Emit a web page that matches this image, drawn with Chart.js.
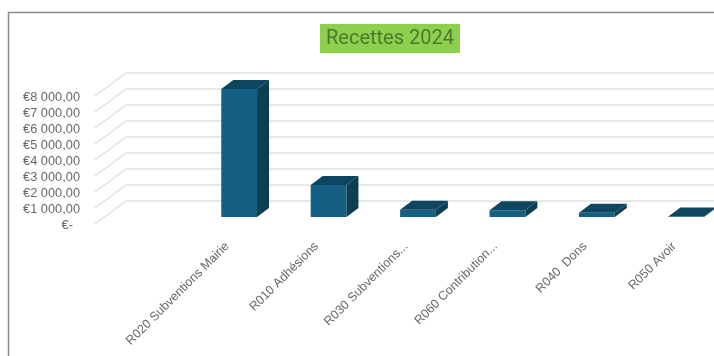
<!DOCTYPE html>
<html>
<head>
<meta charset="utf-8">
<style>
  html, body { margin: 0; padding: 0; background: #fff; overflow: hidden; width: 714px; height: 356px; }
  canvas { display: block; }
</style>
<script src="https://cdn.jsdelivr.net/npm/chart.js@4"></script>
</head>
<body>
<canvas id="chart" width="731" height="356" style="width:731px;height:356px"></canvas>
<script>
const categories = ["", "R020 Subventions Mairie", "R010 Adhésions", "R030 Subventions...", "R060 Contribution...", "R040  Dons", "R050 Avoir"];
const recettes = [null, 8000, 2000, 460, 420, 270, 30];
const yTicks = [0, 1000, 2000, 3000, 4000, 5000, 6000, 7000, 8000];
const yTickLabels = ["€-  ", "€1 000,00", "€2 000,00", "€3 000,00", "€4 000,00", "€5 000,00", "€6 000,00", "€7 000,00", "€8 000,00"];

// fake 3d: back wall + floor offsets and bar depth
const wallX = 126, wallDy = 16, floorX = 95, floorDy = 7;
const depthX = 12, depthY = 9;

const fake3d = {
  id: "fake3d",
  afterLayout(chart) {
    // title box sits right of the canvas centre
    chart.titleBlock.left = 320;
    chart.titleBlock.right = 460;
  },
  beforeDraw(chart) {
    const { ctx, width, height } = chart;
    ctx.save();
    ctx.fillStyle = "#fff";
    ctx.fillRect(0, 0, width, height);
    // frame, cut off by the screenshot on the right and bottom
    ctx.strokeStyle = "#8a8a8a";
    ctx.lineWidth = 1.5;
    ctx.strokeRect(8.5, 12.5, width + 20, height + 20);
    // title background
    ctx.fillStyle = "#8ED04D";
    ctx.fillRect(320, 24, 140, 29);
    ctx.restore();
  },
  beforeDatasetsDraw(chart) {
    const { ctx, scales: { y }, width } = chart;
    ctx.save();
    ctx.strokeStyle = "#e1e1e1";
    ctx.lineWidth = 1.4;
    yTicks.forEach(v => {
      const py = y.getPixelForValue(v);
      ctx.beginPath();
      ctx.moveTo(floorX, py + floorDy);
      ctx.lineTo(wallX, py - wallDy);
      ctx.lineTo(width, py - wallDy);
      ctx.stroke();
    });
    ctx.restore();
  },
  afterDatasetsDraw(chart) {
    const { ctx, chartArea } = chart;
    const bars = chart.getDatasetMeta(0).data;
    ctx.save();
    bars.forEach((bar, i) => {
      if (recettes[i] == null) return;
      const w = bar.width / 2, l = bar.x - w, r = bar.x + w, t = bar.y, b = chartArea.bottom;
      // right side
      ctx.fillStyle = "#0D3E53";
      ctx.beginPath();
      ctx.moveTo(r, t);
      ctx.lineTo(r + depthX, t - depthY);
      ctx.lineTo(r + depthX, b - depthY);
      ctx.lineTo(r, b);
      ctx.closePath();
      ctx.fill();
      // top
      ctx.fillStyle = "#0F465F";
      ctx.beginPath();
      ctx.moveTo(l, t);
      ctx.lineTo(l + depthX, t - depthY);
      ctx.lineTo(r + depthX, t - depthY);
      ctx.lineTo(r, t);
      ctx.closePath();
      ctx.fill();
    });
    ctx.restore();
  }
};

new Chart(document.getElementById("chart"), {
  type: "bar",
  data: {
    labels: categories,
    datasets: [{
      data: recettes,
      backgroundColor: "#156082",
      borderWidth: 0,
      barPercentage: 0.4,
      categoryPercentage: 1
    }]
  },
  options: {
    responsive: false,
    animation: false,
    devicePixelRatio: 1,
    layout: { padding: 0 },
    plugins: {
      legend: { display: false },
      tooltip: { enabled: false },
      title: {
        display: true,
        text: "Recettes 2024",
        color: "#4A7A2E",
        font: { family: "Roboto", size: 20, weight: "normal", lineHeight: 1.2 },
        padding: { top: 27, bottom: 38 }
      }
    },
    scales: {
      x: {
        grid: { display: false },
        border: { display: false },
        afterFit(scale) { scale.height = 139; },
        ticks: {
          autoSkip: false,
          minRotation: 45,
          maxRotation: 45,
          padding: 14,
          labelOffset: -12,
          color: "#686868",
          font: { family: "'Liberation Sans'", size: 12.5 }
        }
      },
      y: {
        min: 0,
        max: 8000,
        grid: { display: false },
        border: { display: false },
        afterFit(scale) { scale.width = 105; },
        afterBuildTicks(scale) { scale.ticks = yTicks.map(v => ({ value: v })); },
        ticks: {
          autoSkip: false,
          padding: 17,
          labelOffset: floorDy + 1,
          color: "#686868",
          font: { family: "'Liberation Sans'", size: 12.8 },
          callback(value) { return yTickLabels[yTicks.indexOf(value)]; }
        }
      }
    }
  },
  plugins: [fake3d]
});
</script>
</body>
</html>
